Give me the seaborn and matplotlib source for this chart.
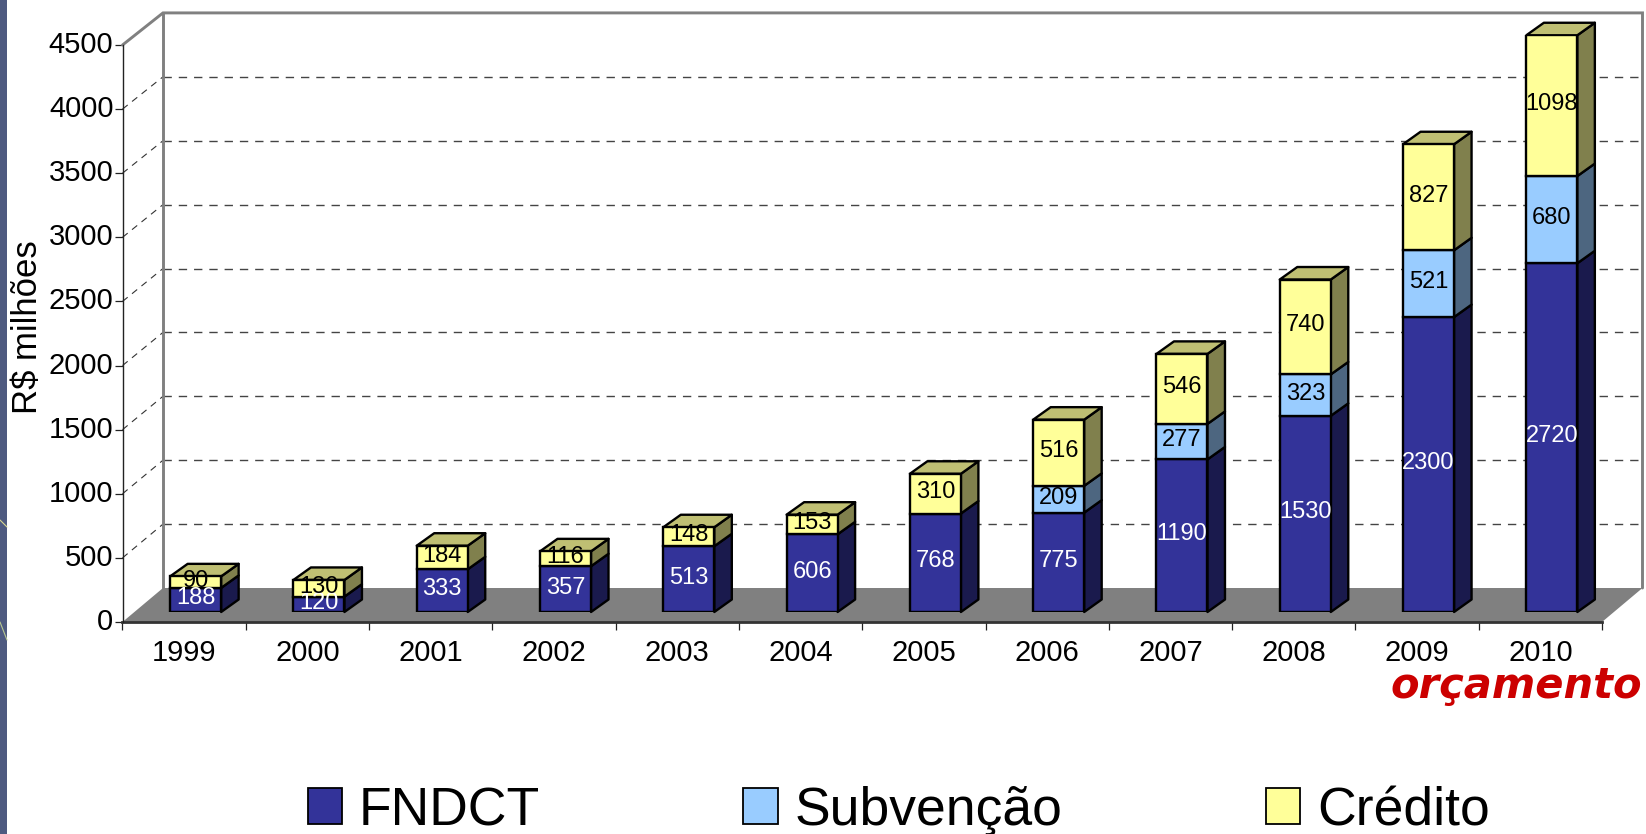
import numpy as np
import matplotlib
matplotlib.use("Agg")
import matplotlib.pyplot as plt
import seaborn as sns
from matplotlib.patches import Polygon, Rectangle
from matplotlib.lines import Line2D
from matplotlib.transforms import ScaledTranslation

years = ["1999", "2000", "2001", "2002", "2003", "2004", "2005", "2006", "2007", "2008", "2009", "2010"]
fndct = [188, 120, 333, 357, 513, 606, 768, 775, 1190, 1530, 2300, 2720]
subvencao = [0, 0, 0, 0, 0, 0, 0, 209, 277, 323, 521, 680]
credito = [90, 130, 184, 116, 148, 153, 310, 516, 546, 740, 827, 1098]
y_ticks = [0, 500, 1000, 1500, 2000, 2500, 3000, 3500, 4000, 4500]

W, H = 1646, 834
PX_X = 12 / (1602 - 122.5)  # categorias por pixel
PX_Y = 4500 / 577  # valor por pixel

sns.set_theme(style="white")
plt.rcParams["font.family"] = ["Liberation Sans", "DejaVu Sans"]

fig = plt.figure(figsize=(W / 100, H / 100), dpi=100, facecolor="white")


def box(x0, y_bottom):
    return [x0 / W, (H - y_bottom) / H, (1602 - 122.5) / W, 577 / H]


# eixo da frente: chão, paredes, grade e marcas
ax = fig.add_axes(box(122.5, 622))
ax.set_xlim(-0.5, 11.5)
ax.set_ylim(0, 4500)
ax.patch.set_visible(False)

back_dx = 40.5 * PX_X
back_dy = 34 * PX_Y
back_k = 0.9967


def back_y(v):
    return v * back_k + back_dy


GRAY = "#808080"
ax.add_patch(Polygon([(-0.5, 0), (-0.5 + back_dx, back_y(0)), (11.5 + back_dx, back_y(0)), (11.5, 0)],
                     closed=True, facecolor=GRAY, edgecolor="none", clip_on=False, zorder=1))
wall_x = [-0.5, -0.5 + back_dx, 11.5 + back_dx, 11.5 + back_dx]
wall_y = [4500, back_y(4500), back_y(4500), back_y(0)]
ax.plot(wall_x, wall_y, color=GRAY, lw=2.1, clip_on=False, zorder=1.5, solid_joinstyle="miter")
ax.plot([-0.5 + back_dx] * 2, [back_y(0), back_y(4500)], color=GRAY, lw=2.1, clip_on=False, zorder=1.5)

dash = (0, (6, 5))
for v in y_ticks[1:-1]:
    ax.plot([-0.5 + back_dx, 11.5 + back_dx], [back_y(v)] * 2, color="#444444", lw=1.0, ls=dash, clip_on=False, zorder=1.2)
    ax.plot([-0.5, -0.5 + back_dx], [v, back_y(v)], color="#333333", lw=0.8, ls=dash, clip_on=False, zorder=1.2)

sns.despine(ax=ax, top=True, right=True)
ax.spines["left"].set_color("#222222")
ax.spines["left"].set_linewidth(1.0)
ax.spines["bottom"].set_color("#333333")
ax.spines["bottom"].set_linewidth(2.0)
ax.spines["bottom"].set_zorder(2)

ax.set_yticks(y_ticks)
ax.set_yticklabels([str(v) for v in y_ticks], fontsize=21, color="black")
ax.set_xticks(np.arange(-0.5, 12, 1))
ax.set_xticklabels([])
ax.set_xticks(np.arange(12), minor=True)
ax.set_xticklabels(years, minor=True, fontsize=21, color="black")
ax.tick_params(axis="y", which="major", left=True, length=5.5, width=0.9, color="#222222", pad=1)
ax.tick_params(axis="x", which="major", bottom=True, length=5.5, width=0.9, color="#222222")
ax.tick_params(axis="x", which="minor", bottom=False, length=0, pad=12.5)
up = ScaledTranslation(0, 3 / 100, fig.dpi_scale_trans)
for lab in ax.get_yticklabels():
    lab.set_transform(lab.get_transform() + up)
ax.set_ylabel("R$ milhões", fontsize=25, color="black")
ax.yaxis.set_label_coords((44 - 122.5) / (1602 - 122.5), (622 - 327) / 577)

# barras: plano deslocado para dentro do gráfico
bar_ax = fig.add_axes(box(122.5 + 11.5, 612))
bar_ax.patch.set_visible(False)

series = [
    ("FNDCT", fndct, "#333399", "#1a1a4d", "#262673", "white"),
    ("Subvenção", subvencao, "#99ccff", "#4d6680", "#739ac0", "black"),
    ("Crédito", credito, "#ffff99", "#80804d", "#bfbf73", "black"),
]

EDGE = 1.7
bottom = np.zeros(len(years))
for name, values, face, side, top, txt in series:
    n = len(bar_ax.patches)
    sns.barplot(x=years, y=values, bottom=bottom, color=face, saturation=1, width=51 * PX_X,
                edgecolor="black", linewidth=EDGE, label=name, ax=bar_ax, zorder=3)
    for bar, v in zip(bar_ax.patches[n:], values):
        if v == 0:
            bar.set_visible(False)
            continue
        x0, x1 = bar.get_x(), bar.get_x() + bar.get_width()
        y0, y1 = bar.get_y(), bar.get_y() + bar.get_height()
        dx, dy = 17.5 * PX_X, 12.5 * PX_Y
        bar_ax.add_patch(Polygon([(x1, y0), (x1 + dx, y0 + dy), (x1 + dx, y1 + dy), (x1, y1)], closed=True,
                                 facecolor=side, edgecolor="black", lw=EDGE, clip_on=False, zorder=2.5,
                                 joinstyle="round"))
        if name == "Crédito":
            bar_ax.add_patch(Polygon([(x0, y1), (x0 + dx, y1 + dy), (x1 + dx, y1 + dy), (x1, y1)], closed=True,
                                     facecolor=top, edgecolor="black", lw=EDGE, clip_on=False, zorder=2.5,
                                     joinstyle="round"))
        bar_ax.text((x0 + x1) / 2, (y0 + y1) / 2 + 1.5 * PX_Y, str(v), ha="center", va="center",
                    fontsize=17, color=txt, zorder=6, clip_on=False)
    bottom = bottom + np.array(values)

bar_ax.set_xlim(-0.5, 11.5)
bar_ax.set_ylim(0, 4500)
handles, labels = bar_ax.get_legend_handles_labels()
if bar_ax.get_legend():
    bar_ax.get_legend().remove()
bar_ax.axis("off")

leg = fig.legend(handles, labels, ncol=3, loc="lower left", bbox_to_anchor=(307.5 / W, (H - 836) / H),
                 frameon=False, fontsize=38.5, handlelength=0.65, handleheight=0.65, handletextpad=0.31,
                 columnspacing=3.8, borderpad=0, borderaxespad=0, labelcolor="black")
for h in leg.legend_handles:
    h.set_visible(True)
    h.set_edgecolor("black")
    h.set_linewidth(1.3)

fig.text(1642 / W, (H - 698) / H, "orçamento", ha="right", va="baseline", fontsize=30, color="#cc0000",
         fontweight="bold", fontstyle="italic", family="DejaVu Sans")

# faixa azul do slide na margem esquerda
fig.add_artist(Rectangle((0, 0), 6.5 / W, 1, transform=fig.transFigure, facecolor="#4e5a80", edgecolor="none"))
fig.add_artist(Line2D([0, 7 / W], [(H - 520) / H, (H - 527) / H], color="#d8d890", lw=0.8))
fig.add_artist(Line2D([0, 7 / W], [(H - 622) / H, (H - 640) / H], color="#b8c890", lw=0.8))

fig.savefig("out.png", dpi=100)
